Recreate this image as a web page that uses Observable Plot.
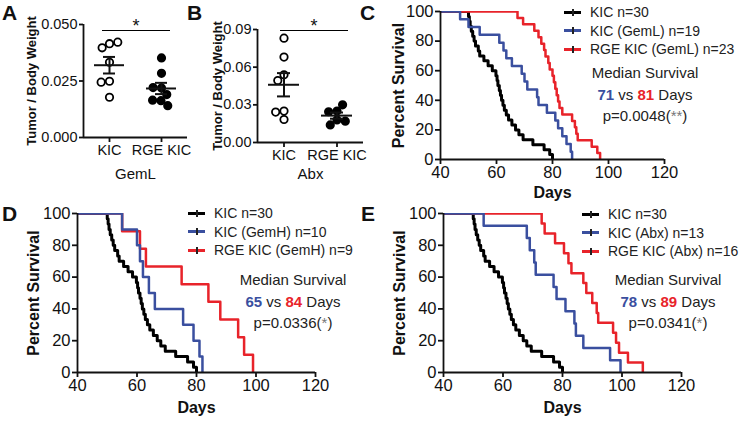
<!DOCTYPE html>
<html><head><meta charset="utf-8">
<script src="https://cdn.jsdelivr.net/npm/d3@7"></script>
<script src="https://cdn.jsdelivr.net/npm/@observablehq/plot@0.6"></script>
<style>
body{margin:0;background:#fff;}
#fig{position:relative;width:750px;height:422px;overflow:hidden;font-family:"Liberation Sans",Arial,sans-serif;color:#111;}
.letter{position:absolute;font-weight:bold;font-size:21px;line-height:1;}
.leg{position:absolute;font-size:14px;white-space:nowrap;color:#222}
.leg .row{display:flex;align-items:center;height:18.5px;}
.sw{width:17px;height:3px;margin-right:9px;position:relative}
.sw i{position:absolute;left:8px;top:-2px;width:1.5px;height:7px;background:#222;}
.med{position:absolute;font-size:15px;text-align:center;white-space:nowrap;line-height:21.5px;transform:translateX(-50%);color:#222}
.med b{font-weight:bold}
.sig{position:absolute;border-top:1.5px solid #000;}
.star{position:absolute;font-size:18px;line-height:1;transform:translateX(-50%)}
g[aria-label="x-axis label"] text, g[aria-label="y-axis label"] text{font-weight:bold;font-size:16px}
.dots g[aria-label="y-axis label"] text{font-size:13px}
.dots g[aria-label="fx-axis label"] text{font-weight:normal;font-size:15px}
</style></head>
<body><div id="fig"></div>
<script>
// ---------- data ----------
const dayTicks = [40, 60, 80, 100, 120];
const pctTicks = [0, 20, 40, 60, 80, 100];
const kicDays = [50, 50.3, 50.6, 51, 51.5, 52, 52.5, 53.5, 54, 55.5, 57, 58.5, 59.8, 60.2, 60.5, 61, 61.4, 61.8, 62.3, 62.8, 63.5, 64.3, 65.5, 66.8, 68, 69.5, 73, 77, 79, 80];
const gemLDays = [47, 50, 54, 61, 62.5, 63.5, 65.5, 69, 70, 71, 74.5, 75, 78, 81, 82, 83.5, 85, 86.5, 87];
const rgeGemLDays = [67.5, 69.5, 73.5, 75, 76, 77, 77.5, 78.5, 79, 80, 80.5, 81, 81.5, 82, 82.5, 83.5, 87, 88, 88.5, 89, 94, 96, 97];
const gemHDays = [55, 60, 61, 62, 64, 66, 75.5, 79, 81, 82];
const rgeGemHDays = [55, 61, 63, 75, 84, 88, 94, 96, 99];
const abxDays = [53.5, 68, 69, 70.5, 71, 77, 78, 81, 84, 84.5, 87, 96, 99.5];
const rgeAbxDays = [73, 74, 77.5, 80.5, 82, 83, 87, 88, 90, 91.5, 92, 97, 98, 99, 102, 107];

const dotGroups = ["KIC", "RGE KIC"];
const gemLKIC = [0.0415, 0.0397, 0.0422, 0.0333, 0.0249, 0.0245, 0.0178];
const gemLRGE = [0.0352, 0.0284, 0.0219, 0.0221, 0.0190, 0.0163, 0.0165, 0.0141];
const abxKIC = [0.0831, 0.0680, 0.0539, 0.0494, 0.0250, 0.0242, 0.0183];
const abxRGE = [0.0250, 0.0245, 0.0300, 0.0180, 0.0140, 0.0170];
const gemLTicks = [0, 0.025, 0.05];
const abxTicks = [0, 0.03, 0.06, 0.09];

const BLACK = "#000", BLUE = "#3a4f9f", RED = "#e8232a";
const FONT = '"Liberation Sans", Arial, sans-serif';
const fig = document.getElementById("fig");
const xDom = [-1, 1];

function place(el, left, top) { el.style.position = "absolute"; el.style.left = left + "px"; el.style.top = top + "px"; fig.appendChild(el); return el; }

function km(days) {
  const n = days.length;
  return [{day: 0, surv: 100}, ...days.map((d, i) => ({day: d, surv: 100 * (n - i - 1) / n}))];
}

function survPlot({curves, width, height, ml, mr, mt, mb, xlo, ylo}) {
  return Plot.plot({
    width, height, marginLeft: ml, marginRight: mr, marginTop: mt, marginBottom: mb,
    style: {fontFamily: FONT, fontSize: "16px", color: "#111", background: "transparent", overflow: "visible"},
    x: {domain: [dayTicks[0], dayTicks[dayTicks.length - 1]]},
    y: {domain: [pctTicks[0], pctTicks[pctTicks.length - 1]]},
    marks: [
      Plot.axisX({ticks: dayTicks, tickSize: 5, tickPadding: 2, strokeWidth: 1.8, fontSize: 16.5, label: "Days", labelArrow: "none", labelAnchor: "center", labelOffset: xlo}),
      Plot.axisY({ticks: pctTicks, tickSize: 5, tickPadding: 2, strokeWidth: 1.8, fontSize: 16.5, label: "Percent Survival", labelArrow: "none", labelAnchor: "center", labelOffset: ylo}),
      ...curves.map(c => Plot.line(km(c.days), {x: "day", y: "surv", curve: "step-after", stroke: c.color, strokeWidth: c.w, clip: true})),
      Plot.ruleX([dayTicks[0]], {strokeWidth: 1.8}),
      Plot.ruleY([pctTicks[0]], {strokeWidth: 1.8})
    ]
  });
}

function dotPlot({kic, rge, ticks, fmt, label, width, height, ml, mr, mt, mb, ylo, xlo}) {
  const data = [...kic.map(v => ({g: dotGroups[0], v})), ...rge.map(v => ({g: dotGroups[1], v}))];
  const stats = dotGroups.map((g, i) => {
    const vals = i === 0 ? kic : rge;
    const m = d3.mean(vals), se = d3.deviation(vals) / Math.sqrt(vals.length);
    return {g, mean: m, lo: m - se, hi: m + se};
  });
  return Plot.plot({
    className: "dots",
    width, height, marginLeft: ml, marginRight: mr, marginTop: mt, marginBottom: mb,
    style: {fontFamily: FONT, fontSize: "14.5px", color: "#111", background: "transparent", overflow: "visible"},
    fx: {domain: dotGroups, padding: 0},
    x: {domain: xDom, axis: null},
    y: {domain: [ticks[0], ticks[ticks.length - 1]]},
    marks: [
      Plot.axisFx({anchor: "bottom", tickSize: 5, tickPadding: 2, strokeWidth: 1.8, fontSize: 14.5, label, labelArrow: "none", labelAnchor: "center", labelOffset: xlo}),
      Plot.axisY({ticks, tickFormat: d3.format(fmt), tickSize: 4, tickPadding: 2, strokeWidth: 1.8, fontSize: 14.5, label: "Tumor / Body Weight", labelArrow: "none", labelAnchor: "center", labelOffset: ylo}),
      Plot.ruleY([ticks[0]], {strokeWidth: 1.8}),
      Plot.ruleX([dotGroups[0]], {fx: d => d, x: () => xDom[0], strokeWidth: 1.8}),
      Plot.dot(data, Plot.dodgeX("middle", {fx: "g", y: "v", r: 3.7, padding: 1.2, stroke: BLACK, strokeWidth: 1.8, fill: d => d.g === dotGroups[0] ? "#fff" : BLACK})),
      Plot.ruleY(stats, {fx: "g", y: "mean", insetLeft: 11, insetRight: 11, strokeWidth: 2}),
      Plot.ruleY(stats, {fx: "g", y: "hi", insetLeft: 20, insetRight: 20, strokeWidth: 2}),
      Plot.ruleY(stats, {fx: "g", y: "lo", insetLeft: 20, insetRight: 20, strokeWidth: 2}),
      Plot.ruleX(stats, {fx: "g", x: () => 0, y1: "lo", y2: "hi", strokeWidth: 2})
    ]
  });
}

// ---------- panels ----------
place(dotPlot({kic: gemLKIC, rge: gemLRGE, ticks: gemLTicks, fmt: ".3f", label: "GemL", width: 200, height: 185, ml: 82, mr: 13, mt: 24, mb: 48, ylo: 57, xlo: 41}), 0, 0);
place(dotPlot({kic: abxKIC, rge: abxRGE, ticks: abxTicks, fmt: ".2f", label: "Abx", width: 200, height: 185, ml: 87, mr: 7, mt: 29, mb: 43, ylo: 45, xlo: 36}), 170, 0);

place(survPlot({curves: [{days: kicDays, color: BLACK, w: 3}, {days: rgeGemLDays, color: RED, w: 2.5}, {days: gemLDays, color: BLUE, w: 2.5}], width: 390, height: 205, ml: 80, mr: 86, mt: 11, mb: 46, xlo: 38, ylo: 48}), 360, 0);
place(survPlot({curves: [{days: kicDays, color: BLACK, w: 3}, {days: rgeGemHDays, color: RED, w: 2.5}, {days: gemHDays, color: BLUE, w: 2.5}], width: 375, height: 222, ml: 77, mr: 60, mt: 13, mb: 50, xlo: 40, ylo: 50}), 0, 200);
place(survPlot({curves: [{days: kicDays, color: BLACK, w: 3}, {days: rgeAbxDays, color: RED, w: 2.5}, {days: abxDays, color: BLUE, w: 2.5}], width: 375, height: 222, ml: 68, mr: 69, mt: 13, mb: 50, xlo: 40, ylo: 50}), 375, 200);

// ---------- annotations ----------
function div(cls, html) { const d = document.createElement("div"); d.className = cls; d.innerHTML = html; return d; }
[["A", 2, 2], ["B", 187, 2], ["C", 360, 2], ["D", 2, 203], ["E", 361, 203]].forEach(([t, x, y]) => place(div("letter", t), x, y));

function sig(x1, x2, y) {
  const s = place(div("sig", ""), x1, y); s.style.width = (x2 - x1) + "px";
  place(div("star", "*"), (x1 + x2) / 2, y - 13);
}
sig(102, 170, 30); sig(280, 348, 30);

function legend(items, x, y) {
  const el = div("leg", items.map(([c, t]) => `<div class="row"><span class="sw" style="background:${c}"><i></i></span>${t}</div>`).join(""));
  place(el, x, y);
}
function median(b, r, p, stars, cx, y) {
  place(div("med", `Median Survival<br><b style="color:${BLUE}">${b}</b> vs <b style="color:${RED}">${r}</b> Days<br>p=${p}(<span style="color:#777">${stars}</span>)`), cx, y);
}
legend([[BLACK, "KIC n=30"], [BLUE, "KIC (GemL) n=19"], [RED, "RGE KIC (GemL) n=23"]], 564, 3);
median(71, 81, "0.0048", "**", 645, 62);
legend([[BLACK, "KIC n=30"], [BLUE, "KIC (GemH) n=10"], [RED, "RGE KIC (GemH) n=9"]], 188, 204);
median(65, 84, "0.0336", "*", 293, 269);
legend([[BLACK, "KIC n=30"], [BLUE, "KIC (Abx) n=13"], [RED, "RGE KIC (Abx) n=16"]], 582, 205);
median(78, 89, "0.0341", "*", 668, 269);
</script></body></html>
